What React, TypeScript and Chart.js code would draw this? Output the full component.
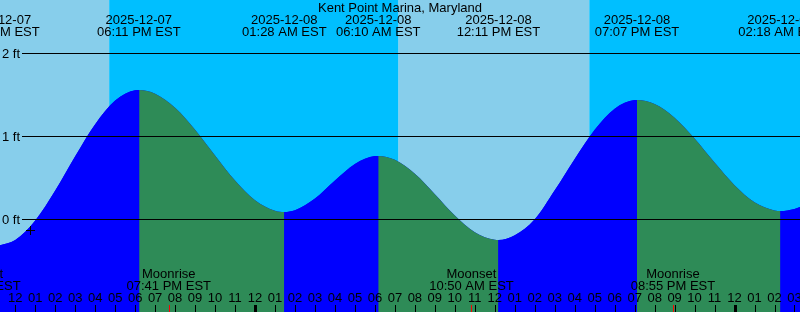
import React, { useEffect, useRef } from "react";
import { Chart, registerables } from "chart.js";

Chart.register(...registerables);

const TITLE = "Kent Point Marina, Maryland";

// Hours since 2025-12-07 00:00 EST
const X_MIN = 11.236;
const X_MAX = 51.276;
const Y_MIN = -1.117;
const Y_MAX = 2.642;

// Tide curve samples (hours, feet)
const tideHours = [11.14, 12, 13, 14, 15, 16, 17, 18, 18.2, 19, 20, 21, 22, 23, 24, 25, 25.467, 26, 27, 28, 29, 30, 30.167, 31, 32, 33, 34, 35, 36, 36.183, 37, 38, 39, 40, 41, 42, 43, 43.117, 44, 45, 46, 47, 48, 49, 50, 50.3, 51, 52];
const tideFeet = [-0.32, -0.25, -0.015, 0.346, 0.76, 1.146, 1.431, 1.555, 1.558, 1.513, 1.344, 1.079, 0.768, 0.466, 0.23, 0.103, 0.088, 0.109, 0.25, 0.467, 0.666, 0.761, 0.763, 0.716, 0.549, 0.303, 0.046, -0.156, -0.247, -0.249, -0.192, 0.0, 0.349, 0.727, 1.078, 1.332, 1.436, 1.437, 1.388, 1.223, 0.972, 0.683, 0.411, 0.205, 0.106, 0.1, 0.125, 0.22];

// Tide extreme labels (top)
const tideEventHours = [11.13, 18.183, 25.467, 30.167, 36.183, 43.117, 50.3];
const tideEventDates = ["2025-12-07", "2025-12-07", "2025-12-08", "2025-12-08", "2025-12-08", "2025-12-08", "2025-12-09"];
const tideEventTimes = ["11:08 AM EST", "06:11 PM EST", "01:28 AM EST", "06:10 AM EST", "12:11 PM EST", "07:07 PM EST", "02:18 AM EST"];

// Moon events (bottom)
const moonEventHours = [10.15, 19.683, 34.833, 44.917];
const moonEventNames = ["Moonset", "Moonrise", "Moonset", "Moonrise"];
const moonEventTimes = ["10:09 AM EST", "07:41 PM EST", "10:50 AM EST", "08:55 PM EST"];

// Daylight bands: [start, end]
const dayStarts = [X_MIN, 31.17];
const dayEnds = [16.7, 40.73];
const nightStarts = [16.7, 40.73];
const nightEnds = [31.17, X_MAX];

// Horizontal reference lines
const footLevels = [0, 1, 2];
const footLabels = ["0 ft", "1 ft", "2 ft"];

// Hour ticks
const hourTicks = [12, 13, 14, 15, 16, 17, 18, 19, 20, 21, 22, 23, 24, 25, 26, 27, 28, 29, 30, 31, 32, 33, 34, 35, 36, 37, 38, 39, 40, 41, 42, 43, 44, 45, 46, 47, 48, 49, 50, 51];
const hourLabels = ["12", "01", "02", "03", "04", "05", "06", "07", "08", "09", "10", "11", "12", "01", "02", "03", "04", "05", "06", "07", "08", "09", "10", "11", "12", "01", "02", "03", "04", "05", "06", "07", "08", "09", "10", "11", "12", "01", "02", "03"];

// "+" marker
const markHour = 12.74;
const markFeet = -0.125;

const DAY = "#87CEEB";
const NIGHT = "#00BFFF";
const RISING = "#0000FF";
const FALLING = "#2E8B57";
const FONT = '13px "Liberation Sans", Arial, Helvetica, sans-serif';

const overlayPlugin = {
  id: "tideOverlay",
  beforeDraw(chart: any) {
    const { ctx, chartArea } = chart;
    const xs = chart.scales.x;
    ctx.save();
    const band = (s: number, e: number, c: string) => {
      const x0 = xs.getPixelForValue(s);
      const x1 = xs.getPixelForValue(e);
      ctx.fillStyle = c;
      ctx.fillRect(x0, chartArea.top, x1 - x0, chartArea.bottom - chartArea.top);
    };
    for (let i = 0; i < dayStarts.length; i++) band(dayStarts[i], dayEnds[i], DAY);
    for (let i = 0; i < nightStarts.length; i++) band(nightStarts[i], nightEnds[i], NIGHT);
    ctx.restore();
  },
  afterDatasetsDraw(chart: any) {
    const { ctx } = chart;
    const xs = chart.scales.x;
    const ys = chart.scales.y;
    ctx.save();
    ctx.fillStyle = "#000";
    ctx.font = FONT;
    // foot lines
    ctx.textAlign = "left";
    ctx.textBaseline = "alphabetic";
    footLevels.forEach((f, i) => {
      const y = ys.getPixelForValue(f);
      ctx.fillRect(22, Math.floor(y), 778, 1);
      ctx.fillText(footLabels[i], 2, y + 4.7);
    });
    // title
    ctx.textAlign = "center";
    ctx.fillText(TITLE, 400, 12);
    // tide events
    tideEventHours.forEach((h, i) => {
      const x = xs.getPixelForValue(h);
      ctx.fillText(tideEventDates[i], x, 24);
      ctx.fillText(tideEventTimes[i], x, 36);
    });
    // moon events
    moonEventHours.forEach((h, i) => {
      const x = xs.getPixelForValue(h);
      ctx.fillText(moonEventNames[i], x, 277.5);
      ctx.fillText(moonEventTimes[i], x, 290);
    });
    // hour labels and ticks
    hourTicks.forEach((h, i) => {
      const x = xs.getPixelForValue(h);
      ctx.fillStyle = "#000";
      ctx.fillText(hourLabels[i], x, 302);
      const px = Math.round(x);
      if (h % 24 === 0) ctx.fillRect(px - 1, 305, 3, 7);
      else ctx.fillRect(px, 305, 1, 7);
    });
    ctx.fillStyle = "#FF0000";
    moonEventHours.forEach((h) => {
      const x = Math.round(xs.getPixelForValue(h));
      ctx.fillRect(x, 305, 1, 7);
    });
    // + marker
    ctx.fillStyle = "#000";
    const mx = Math.round(xs.getPixelForValue(markHour));
    const my = Math.round(ys.getPixelForValue(markFeet));
    ctx.fillRect(mx - 4, my, 9, 1);
    ctx.fillRect(mx, my - 4, 1, 9);
    ctx.restore();
  },
};

export default function App() {
  const ref = useRef<HTMLCanvasElement | null>(null);
  useEffect(() => {
    document.body.style.margin = "0";
    if (!ref.current) return;
    const data = tideHours.map((h, i) => ({ x: h, y: tideFeet[i] }));
    const chart = new Chart(ref.current, {
      type: "line",
      data: {
        datasets: [
          {
            data,
            fill: "start",
            backgroundColor: RISING,
            borderColor: "rgba(0,0,0,0)",
            borderWidth: 0,
            pointRadius: 0,
            cubicInterpolationMode: "monotone",
            segment: {
              backgroundColor: (c: any) => (c.p1.parsed.y >= c.p0.parsed.y ? RISING : FALLING),
            },
          } as any,
          {
            data,
            fill: "start",
            backgroundColor: RISING,
            borderColor: "rgba(0,0,0,0)",
            borderWidth: 0,
            pointRadius: 0,
            cubicInterpolationMode: "monotone",
          } as any,
        ],
      },
      options: {
        responsive: false,
        animation: false,
        layout: { padding: 0 },
        events: [],
        scales: {
          x: { type: "linear", min: X_MIN, max: X_MAX, display: false },
          y: { type: "linear", min: Y_MIN, max: Y_MAX, display: false },
        },
        plugins: {
          legend: { display: false },
          tooltip: { enabled: false },
          title: { display: false },
        },
      },
      plugins: [overlayPlugin],
    });
    return () => chart.destroy();
  }, []);
  return (
    <div style={{ width: 800, height: 312, position: "relative" }}>
      <canvas ref={ref} width={800} height={312} style={{ display: "block" }} />
    </div>
  );
}
